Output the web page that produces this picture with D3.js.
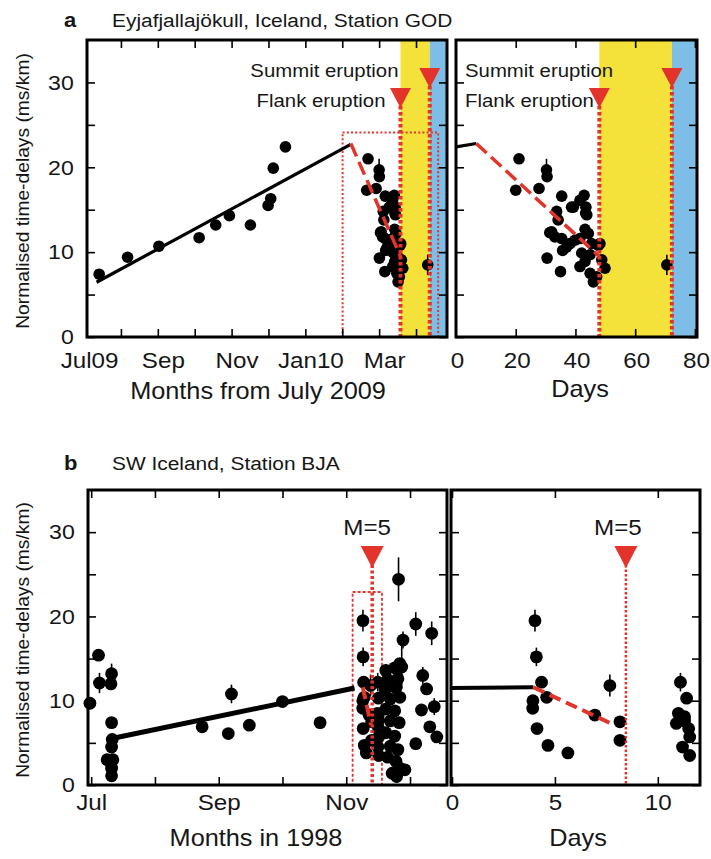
<!DOCTYPE html>
<html>
<head>
<meta charset="utf-8">
<script src="https://cdn.jsdelivr.net/npm/d3@7"></script>
<style>
  body { margin: 0; background: #fff; }
  svg { display: block; font-family: "Liberation Sans", Arial, sans-serif; }
</style>
</head>
<body>
<svg id="chart" width="711" height="859"></svg>
<script>
// ---------- shared value axis ----------
const yDomain = [0, 35];
const yTickValues = [0, 5, 10, 15, 20, 25, 30];
const yTickLabels = ["0", "", "10", "", "20", "", "30"];
const yTitle = "Normalised time-delays (ms/km)";

// ---------- panel a: Eyjafjallajökull, station GOD ----------
const godTitle = "Eyjafjallajökull, Iceland, Station GOD";
// months after 1 July 2009, before the analysis window
const godMonths = [0.41, 1.18, 2.03, 3.12, 3.57, 3.94, 4.51, 4.99, 5.06, 5.13, 5.46];
const godValues = [7.4, 9.4, 10.7, 11.7, 13.2, 14.3, 13.2, 15.5, 16.3, 19.9, 22.4];
// days after the start of the analysis window
const godDays = [21.1, 30.3, 30.5, 20.0, 27.8, 35.4, 42.9, 41.5, 38.7, 43.5, 43.8, 33.7, 34.2,
  31.4, 43.2, 44.3, 35.4, 38.2, 39.8, 41.5, 35.7, 47.7, 30.5, 42.1, 44.9, 43.2, 48.8, 49.9,
  41.5, 35.0, 44.9, 46.0, 47.1, 33.1, 37.0, 39.3, 43.4, 32.0, 45.4, 48.2, 70.6];
const godDayValues = [21.0, 19.7, 18.9, 17.3, 17.5, 16.6, 16.7, 16.1, 15.3, 15.3, 14.4, 14.8, 13.8,
  12.3, 12.7, 12.2, 11.6, 11.0, 11.4, 11.6, 10.2, 10.8, 9.3, 9.9, 9.7, 8.9, 9.1, 8.1,
  8.3, 7.7, 7.5, 6.5, 7.1, 11.8, 10.6, 15.3, 14.6, 12.4, 11.0, 11.0, 8.5];
const godDayErrors = [0, 1.3, 0, 0, 0, 0, 0, 0, 0, 0, 0, 0, 0,
  0, 0, 0, 0, 0, 0, 0, 0, 0, 0, 0, 0, 0, 0, 0,
  0, 0, 0, 0, 0, 0, 0, 0, 0, 0, 0, 0, 1.2];
const godWindowStart = 7.01;      // window day 0, in months after 1 July 2009
const godDaysPerMonth = 30.6;
const godBoxMonths = [7.01, 9.6];
const godBoxTop = 24.1;
// fitted trends
const godRiseMonths = [0.34, 7.23];
const godRiseValues = [6.45, 22.7];
const godRiseDays = [0, 6.8];
const godRiseDayValues = [22.4, 22.8];
const godDropDays = [6.8, 48];
const godDropValues = [22.8, 9.5];
// eruptions, in window days
const godEventNames = ["Flank eruption", "Summit eruption"];
const godEventDays = [48, 72.3];
// axis ticks
const godMonthTicks = [0, 1, 2, 3, 4, 5, 6, 7, 8, 9];
const godMonthLabels = ["Jul09", "", "Sep", "", "Nov", "", "Jan10", "", "Mar", ""];
const godDayTicks = [0, 20, 40, 60, 80];
const godDayLabels = ["0", "20", "40", "60", "80"];
const godMonthTitle = "Months from July 2009";

// ---------- panel b: SW Iceland, station BJA ----------
const bjaTitle = "SW Iceland, Station BJA";
// months after 1 July 1998, outside the analysis window
const bjaMonths = [-0.02, 0.115, 0.13, 0.32, 0.31, 0.32, 0.33, 0.32, 0.25, 0.34, 0.32, 0.32,
  1.74, 2.15, 2.2, 2.48, 3.0, 3.59,
  4.82, 5.09, 5.34, 4.89, 4.87, 5.2, 5.26, 5.38, 5.18, 5.31, 5.42, 5.09,
  4.62, 4.76, 4.84, 4.65, 4.81, 4.61, 4.78, 4.69, 4.84, 4.62, 4.76, 4.69, 4.83,
  4.62, 4.76, 4.69, 4.81, 4.65, 4.78, 4.84, 4.72, 4.92, 4.79];
const bjaValues = [9.7, 15.4, 12.1, 13.2, 12.0, 7.4, 5.4, 4.5, 3.0, 3.0, 2.0, 1.1,
  6.9, 6.1, 10.8, 7.1, 9.9, 7.4,
  24.4, 19.1, 18.0, 17.2, 14.0, 13.0, 11.4, 9.3, 8.9, 6.9, 5.7, 4.9,
  13.6, 13.9, 14.4, 12.5, 12.6, 11.3, 11.5, 10.2, 10.4, 9.0, 8.8, 7.6, 7.4,
  6.2, 5.8, 4.6, 4.2, 3.3, 2.8, 2.0, 1.4, 1.8, 1.0];
const bjaErrors = [0, 0, 1.2, 1.2, 0, 0, 0, 0, 0, 0, 0, 0,
  0, 0, 1.1, 0, 0, 0,
  2.6, 1.4, 1.4, 1.0, 2.6, 1.0, 0, 1.0, 0, 0, 0, 0,
  0, 0, 0, 0, 0, 0, 0, 0, 0, 0, 0, 0, 0,
  0, 0, 0, 0, 0, 0, 0, 0, 0, 0];
// days after the start of the analysis window
const bjaDays = [4.03, 4.1, 4.35, 3.93, 3.92, 4.6, 4.13, 4.66, 5.63, 6.94, 7.67, 8.16, 8.16,
  11.1, 11.4, 11.0, 11.3, 10.9, 11.5, 11.55, 11.2, 11.55, 11.3];
const bjaDayValues = [19.5, 15.2, 12.2, 10.0, 9.1, 10.4, 6.7, 4.7, 3.8, 8.3, 11.8, 7.5, 5.3,
  12.2, 10.3, 8.5, 8.1, 7.3, 6.7, 5.7, 4.5, 3.5, 7.6];
const bjaDayErrors = [1.3, 1.1, 0, 0, 0, 0, 0, 0, 0, 0, 1.3, 0, 0,
  1.1, 0, 0, 0, 0, 0, 0, 0, 0, 0];
const bjaWindowStart = 4.13;      // window day 0, in months after 1 July 1998
const bjaDaysPerMonth = 30.5;
const bjaBoxMonths = [4.1, 4.56];
const bjaBoxTop = 22.9;
const bjaRiseMonths = [0.25, 4.13];
const bjaRiseValues = [5.4, 11.5];
const bjaRiseDays = [-0.05, 3.95];
const bjaRiseDayValues = [11.5, 11.6];
const bjaDropDays = [3.95, 7.9];
const bjaDropValues = [11.6, 7.1];
const bjaEventName = "M=5";
const bjaEventDay = 8.45;
const bjaMonthTicks = [0, 1, 2, 3, 4, 5];
const bjaMonthLabels = ["Jul", "", "Sep", "", "Nov", ""];
const bjaDayTicks = [0, 5, 10];
const bjaDayLabels = ["0", "5", "10"];
const bjaMonthTitle = "Months in 1998";
const dayTitle = "Days";

// ---------- drawing ----------
const RED = "#e3342b", YELLOW = "#f4e13a", BLUE = "#7dbde6";
const INK = "#161616";
const STRETCH = 1.1;              // lettering is set slightly wide
const svg = d3.select("#chart");
let clipCount = 0;

function addText(parent, x, y, str, size, anchor, weight, rotate) {
  return parent.append("text")
    .attr("transform", `translate(${x},${y})${rotate ? ` rotate(${rotate})` : ""} scale(${STRETCH},1)`)
    .attr("text-anchor", anchor || "start")
    .attr("font-size", size)
    .attr("font-weight", weight || null)
    .attr("fill", INK)
    .text(str);
}

function makePanel(frame, xDomain) {
  const x = d3.scaleLinear().domain(xDomain).range([frame.left, frame.right]);
  const y = d3.scaleLinear().domain(yDomain).range([frame.bottom, frame.top]);
  const id = "clip" + (clipCount++);
  svg.append("clipPath").attr("id", id).append("rect")
    .attr("x", frame.left).attr("y", frame.top)
    .attr("width", frame.right - frame.left).attr("height", frame.bottom - frame.top);
  const g = svg.append("g");
  return { x, y, frame, g, clip: `url(#${id})` };
}

function band(p, x0, x1, color) {
  p.g.append("rect").attr("clip-path", p.clip)
    .attr("x", p.x(x0)).attr("y", p.frame.top)
    .attr("width", Math.max(0, p.x(x1) - p.x(x0)))
    .attr("height", p.frame.bottom - p.frame.top)
    .attr("fill", color);
}

function box(p, xs, top, width, dash) {
  p.g.append("rect")
    .attr("x", p.x(xs[0])).attr("y", p.y(top))
    .attr("width", p.x(xs[1]) - p.x(xs[0])).attr("height", p.y(0) - p.y(top))
    .attr("fill", "none").attr("stroke", RED)
    .attr("stroke-width", width).attr("stroke-dasharray", dash);
}

function trend(p, xs, vs, color, width, dash) {
  const line = d3.line().x(d => p.x(d[0])).y(d => p.y(d[1]));
  p.g.append("path").attr("clip-path", p.clip)
    .attr("d", line(d3.zip(xs, vs)))
    .attr("fill", "none").attr("stroke", color)
    .attr("stroke-width", width)
    .attr("stroke-dasharray", dash || null);
}

function points(p, xs, vs, errs, r) {
  const data = d3.zip(xs, vs, errs || xs.map(() => 0))
    .filter(d => p.x(d[0]) >= p.frame.left - r && p.x(d[0]) <= p.frame.right + r);
  const g = p.g.append("g");
  g.selectAll("line").data(data.filter(d => d[2] > 0)).join("line")
    .attr("x1", d => p.x(d[0])).attr("x2", d => p.x(d[0]))
    .attr("y1", d => p.y(d[1] - d[2])).attr("y2", d => p.y(d[1] + d[2]))
    .attr("stroke", "#000").attr("stroke-width", 1.6);
  g.selectAll("circle").data(data).join("circle")
    .attr("cx", d => p.x(d[0])).attr("cy", d => p.y(d[1])).attr("r", r)
    .attr("fill", "#000");
}

function eventLine(p, xv, top, width, dash) {
  p.g.append("line")
    .attr("x1", p.x(xv)).attr("x2", p.x(xv))
    .attr("y1", top).attr("y2", p.frame.bottom)
    .attr("stroke", RED).attr("stroke-width", width).attr("stroke-dasharray", dash);
}

function marker(p, xv, top, w, h) {
  const cx = p.x(xv);
  p.g.append("path")
    .attr("d", `M${cx - w / 2},${top}L${cx + w / 2},${top}L${cx},${top + h}Z`)
    .attr("fill", RED);
}

function styleAxis(sel, size, shift) {
  sel.select(".domain").remove();
  sel.attr("font-family", null).attr("font-size", size);
  sel.selectAll(".tick line").attr("stroke", "#000").attr("stroke-width", 1.6);
  sel.selectAll(".tick text").attr("fill", INK)
    .attr("transform", `translate(${shift || 0},0) scale(${STRETCH},1)`);
}

function axes(p, xTicks, xLabels, yLabels, pad, shift) {
  const f = p.frame;
  const [d0, d1] = p.x.domain();
  const inside = v => v > d0 + 1e-6 && v < d1 - 1e-6;
  const gb = svg.append("g").attr("transform", `translate(0,${f.bottom})`)
    .call(d3.axisBottom(p.x).tickValues(xTicks).tickSize(-8).tickPadding(pad)
      .tickFormat((d, i) => xLabels[i]));
  styleAxis(gb, 22, shift);
  gb.selectAll(".tick").filter(d => !inside(d)).select("line").remove();
  const gt = svg.append("g").attr("transform", `translate(0,${f.top})`)
    .call(d3.axisTop(p.x).tickValues(xTicks.filter(inside)).tickSize(-8).tickFormat(""));
  styleAxis(gt, 22);
  const gl = svg.append("g").attr("transform", `translate(${f.left},0)`)
    .call(d3.axisLeft(p.y).tickValues(yTickValues).tickSize(-8).tickPadding(12)
      .tickFormat((d, i) => yLabels ? yTickLabels[i] : ""));
  styleAxis(gl, 21);
  const gr = svg.append("g").attr("transform", `translate(${f.right},0)`)
    .call(d3.axisRight(p.y).tickValues(yTickValues).tickSize(-8).tickFormat(""));
  styleAxis(gr, 21);
  svg.append("rect").attr("x", f.left).attr("y", f.top)
    .attr("width", f.right - f.left).attr("height", f.bottom - f.top)
    .attr("fill", "none").attr("stroke", "#000").attr("stroke-width", 3);
}

function heading(letter, text, baseline, size) {
  addText(svg, 64, baseline, letter, 20, "start", "bold");
  addText(svg, 112, baseline, text, size);
}

// ===== panel a =====
const godToMonth = d => godWindowStart + d / godDaysPerMonth;
const aL = makePanel({ left: 87, right: 447, top: 40, bottom: 337 }, [0.08, 9.84]);
const aR = makePanel({ left: 456, right: 697, top: 40, bottom: 337 }, [0, 80.7]);

// eruption periods
band(aL, godToMonth(godEventDays[0]), godToMonth(godEventDays[1]), YELLOW);
band(aL, godToMonth(godEventDays[1]), 20, BLUE);
band(aR, godEventDays[0], godEventDays[1], YELLOW);
band(aR, godEventDays[1], 200, BLUE);

box(aL, godBoxMonths, godBoxTop, 2, "2,2.2");

trend(aL, godRiseMonths, godRiseValues, "#000", 3.2);
trend(aR, godRiseDays, godRiseDayValues, "#000", 3.2);

points(aL, godMonths, godValues, null, 5.8);
points(aL, godDays.map(godToMonth), godDayValues, godDayErrors, 5.8);
points(aR, godDays, godDayValues, godDayErrors, 5.8);

trend(aL, godDropDays.map(godToMonth), godDropValues, RED, 3.5, "14,6");
trend(aR, godDropDays, godDropValues, RED, 3.5, "14,6");

// eruption markers
const markTops = [88, 68];
godEventDays.forEach((d, i) => {
  eventLine(aL, godToMonth(d), markTops[i] + 18, 4, "3.5,2.5");
  marker(aL, godToMonth(d), markTops[i], 21, 20);
  eventLine(aR, d, markTops[i] + 18, 4, "3.5,2.5");
  marker(aR, d, markTops[i], 21, 20);
});
const flankX = aL.x(godToMonth(godEventDays[0]));
addText(aL.g, flankX - 2, 77, godEventNames[1], 18.5, "end");
addText(aL.g, flankX - 15, 107, godEventNames[0], 18.5, "end");
addText(aR.g, aR.frame.left + 9, 77, godEventNames[1], 18.5, "start");
addText(aR.g, aR.frame.left + 9, 107, godEventNames[0], 18.5, "start");

axes(aL, godMonthTicks, godMonthLabels, true, 15.5, 5);
axes(aR, godDayTicks, godDayLabels, false, 15.5, 1);
heading("a", godTitle, 27, 19);
addText(svg, 258, 399, godMonthTitle, 23, "middle");
addText(svg, 580, 397, dayTitle, 23, "middle");
addText(svg, 29, 191, yTitle, 17.5, "middle", null, -90);

// ===== panel b =====
const bjaToMonth = d => bjaWindowStart + d / bjaDaysPerMonth;
const bL = makePanel({ left: 88, right: 447, top: 490, bottom: 785 }, [-0.05, 5.58]);
const bR = makePanel({ left: 451, right: 700, top: 490, bottom: 785 }, [-0.05, 12.05]);

box(bL, bjaBoxMonths, bjaBoxTop, 1.8, "3,2");

trend(bL, bjaRiseMonths, bjaRiseValues, "#000", 5);
trend(bR, bjaRiseDays, bjaRiseDayValues, "#000", 4);

points(bL, bjaMonths, bjaValues, bjaErrors, 6.4);
points(bL, bjaDays.map(bjaToMonth), bjaDayValues, bjaDayErrors, 6.4);
points(bR, bjaDays, bjaDayValues, bjaDayErrors, 6.4);

trend(bL, bjaDropDays.map(bjaToMonth), bjaDropValues, RED, 4, "12,6");
trend(bR, bjaDropDays, bjaDropValues, RED, 4, "12,6");

eventLine(bL, bjaToMonth(bjaEventDay), 565, 3.5, "3,2.5");
marker(bL, bjaToMonth(bjaEventDay), 546, 23, 22);
eventLine(bR, bjaEventDay, 565, 2.5, "2.5,2");
marker(bR, bjaEventDay, 546, 23, 22);
addText(bL.g, bL.x(bjaToMonth(bjaEventDay)) - 5, 535, bjaEventName, 22, "middle");
addText(bR.g, bR.x(bjaEventDay) - 8, 535, bjaEventName, 22, "middle");

axes(bL, bjaMonthTicks, bjaMonthLabels, true, 9, 0);
axes(bR, bjaDayTicks, bjaDayLabels, false, 9, 0);
heading("b", bjaTitle, 470, 19);
addText(svg, 256, 846, bjaMonthTitle, 23, "middle");
addText(svg, 578, 846, dayTitle, 23, "middle");
addText(svg, 29, 640, yTitle, 17.5, "middle", null, -90);
</script>
</body>
</html>
